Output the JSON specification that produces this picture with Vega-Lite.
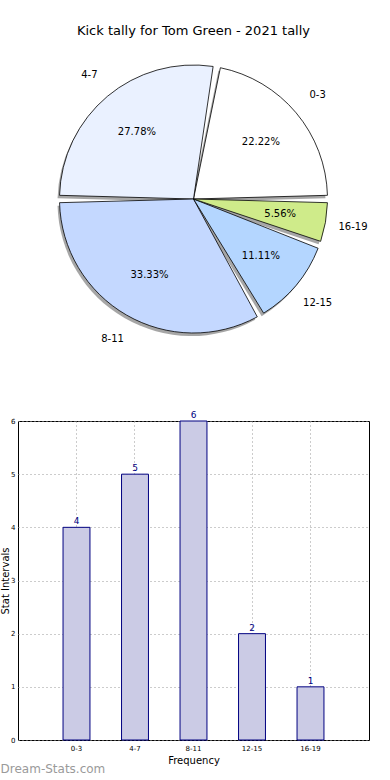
{
  "$schema": "https://vega.github.io/schema/vega-lite/v6.json",
  "padding": {"left": 0, "top": 25, "right": 0, "bottom": 0},
  "config": {"font": "DejaVu Sans", "view": {"stroke": null}},
  "bounds": "flush",
  "spacing": 72,
  "datasets": {
    "tally": [
      {"interval": "0-3", "count": 4, "pct": "22.22%"},
      {"interval": "4-7", "count": 5, "pct": "27.78%"},
      {"interval": "8-11", "count": 6, "pct": "33.33%"},
      {"interval": "12-15", "count": 2, "pct": "11.11%"},
      {"interval": "16-19", "count": 1, "pct": "5.56%"}
    ]
  },
  "vconcat": [
    {
      "width": 351,
      "height": 300,
      "title": {"text": "Kick tally for Tom Green - 2021 tally", "fontSize": 13, "fontWeight": "normal", "color": "black", "offset": 11, "anchor": "middle"},
      "data": {"name": "tally"},
      "encoding": {
        "theta": {"field": "count", "type": "quantitative", "stack": true, "scale": {"range": [1.5708, -4.7124]}},
        "order": {"field": "idx", "type": "quantitative"}
      },
      "layer": [
        {
          "mark": {"type": "arc", "radius": 134, "padAngle": 0.055, "fill": "#4d4d4d", "opacity": 0.5, "xOffset": -2, "yOffset": 3}
        },
        {
          "mark": {"type": "arc", "radius": 134, "padAngle": 0.055, "stroke": "black", "strokeWidth": 0.8},
          "encoding": {
            "color": {"field": "interval", "type": "nominal", "legend": null,
              "scale": {"domain": ["0-3", "4-7", "8-11", "12-15", "16-19"], "range": ["#ffffff", "#eaf1ff", "#c4d8ff", "#b4d6ff", "#cfeb8a"]}}
          }
        },
        {
          "mark": {"type": "text", "radius": 88, "fontSize": 10, "color": "black"},
          "encoding": {"text": {"field": "pct"}}
        },
        {
          "mark": {"type": "text", "radius": 162, "fontSize": 10, "color": "black"},
          "encoding": {"text": {"field": "interval"}}
        }
      ]
    },
    {
      "width": 351,
      "height": 319,
      "view": {"stroke": "black", "strokeWidth": 1},
      "title": {"text": "Dream-Stats.com", "orient": "bottom", "anchor": "start", "frame": "bounds", "fontSize": 12, "fontWeight": "normal", "color": "#9a9a9a", "offset": -1},
      "data": {"name": "tally"},
      "encoding": {
        "x": {"field": "interval", "type": "nominal", "sort": ["0-3", "4-7", "8-11", "12-15", "16-19"],
          "scale": {"paddingInner": 0.54, "paddingOuter": 0.77},
          "axis": {"title": "Frequency", "titleFontSize": 10, "titleFontWeight": "normal", "titleColor": "black", "titlePadding": 4,
            "labelAngle": 0, "labelFontSize": 7, "labelColor": "black", "labelPadding": 4,
            "bandPosition": 0.5, "grid": true, "gridDash": [1, 3], "gridColor": "#999", "ticks": false, "domain": false}},
        "y": {"field": "count", "type": "quantitative", "scale": {"domain": [0, 6], "nice": false},
          "axis": {"title": "Stat Intervals", "titleFontSize": 10, "titleFontWeight": "normal", "titleColor": "black", "titlePadding": 0,
            "values": [0, 1, 2, 3, 4, 5, 6], "format": "d", "labelFontSize": 7, "labelColor": "black", "labelPadding": 3,
            "grid": true, "gridDash": [1, 3], "gridColor": "#999", "ticks": false, "domain": false}}
      },
      "layer": [
        {"mark": {"type": "bar", "fill": "#cbcbe5", "stroke": "#000080", "strokeWidth": 1}},
        {"mark": {"type": "text", "dy": -6, "fontSize": 9, "color": "#000080"}, "encoding": {"text": {"field": "count"}}}
      ]
    }
  ]
}
